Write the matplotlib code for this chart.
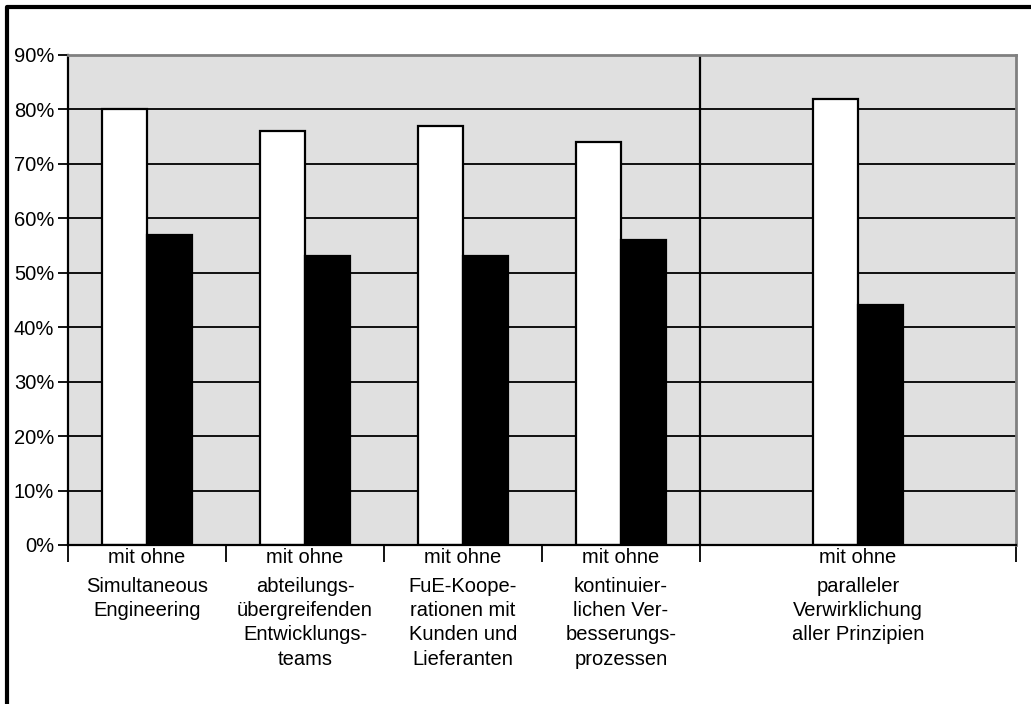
import numpy as np
import matplotlib.pyplot as plt
from matplotlib.lines import Line2D

plt.rcParams['font.family'] = ['Liberation Sans', 'DejaVu Sans']
plt.rcParams['font.size'] = 14.5

categories = ["Simultaneous\nEngineering",
              "abteilungs-\nübergreifenden\nEntwicklungs-\nteams",
              "FuE-Koope-\nrationen mit\nKunden und\nLieferanten",
              "kontinuier-\nlichen Ver-\nbesserungs-\nprozessen",
              "paralleler\nVerwirklichung\naller Prinzipien"]
group_widths = [1, 1, 1, 1, 2]
mit = [80, 76, 77, 74, 82]
ohne = [57, 53, 53, 56, 44]

edges = np.concatenate([[0], np.cumsum(group_widths)])
centers = (edges[:-1] + edges[1:]) / 2
bw = 0.285

fig = plt.figure(figsize=(10.31, 7.04), dpi=100)
ax = fig.add_axes([68 / 1031, 1 - 545 / 704, (1016 - 68) / 1031, (545 - 55) / 704])
ax.set_facecolor('#e0e0e0')

for y in range(10, 90, 10):
    ax.axhline(y, color='black', lw=1.3, zorder=1)
ax.axvline(edges[4], color='black', lw=1.6, zorder=1)

ax.bar(centers - bw / 2, mit, bw, color='white', edgecolor='black', lw=1.6, zorder=2)
ax.bar(centers + bw / 2, ohne, bw, color='black', edgecolor='black', lw=1.6, zorder=2)

ax.set_xlim(0, edges[-1])
ax.set_ylim(0, 90)
ax.set_yticks(range(0, 100, 10))
ax.set_yticklabels([f"{v}%" for v in range(0, 100, 10)])
ax.tick_params(axis='y', direction='out', length=7, width=1.3, pad=3)
ax.set_xticks(edges)
ax.set_xticklabels([])
ax.tick_params(axis='x', direction='out', length=12, width=1.3)

for s in ['left', 'bottom']:
    ax.spines[s].set_color('black')
    ax.spines[s].set_linewidth(1.6)
for s in ['top', 'right']:
    ax.spines[s].set_color('#808080')
    ax.spines[s].set_linewidth(2)

for c, lab in zip(centers, categories):
    ax.annotate("mit ohne", xy=(c, 0), xytext=(0, -2), textcoords='offset points',
                ha='center', va='top')
    ax.annotate(lab, xy=(c, 0), xytext=(0, -23), textcoords='offset points',
                ha='center', va='top', linespacing=1.35)

# outer frame
fig.add_artist(Line2D([7 / 1031, 7 / 1031, 1.0], [0, 1 - 7 / 704, 1 - 7 / 704],
                      transform=fig.transFigure, color='black', lw=3))

fig.savefig('out.png', dpi=100)
